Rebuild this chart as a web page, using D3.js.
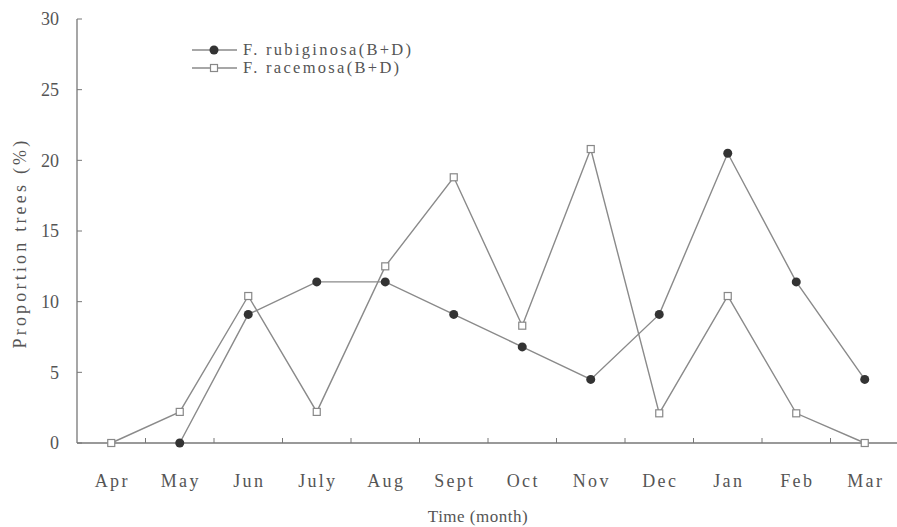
<!DOCTYPE html>
<html><head><meta charset="utf-8">
<script src="https://cdn.jsdelivr.net/npm/d3@7"></script>
<style>body{margin:0;background:#fff;} text{font-family:"Liberation Serif","Times New Roman",serif;fill:#555;}</style>
</head><body><svg id="c" width="897" height="527"></svg>
<script>
const months = ["Apr","May","Jun","July","Aug","Sept","Oct","Nov","Dec","Jan","Feb","Mar"];
const rubiginosa = [null,0,9.1,11.4,11.4,9.1,6.8,4.5,9.1,20.5,11.4,4.5];
const racemosa = [0,2.2,10.4,2.2,12.5,18.8,8.3,20.8,2.1,10.4,2.1,0];
const yTicks = [0,5,10,15,20,25,30];
const seriesNames = ["F. rubiginosa(B+D)","F. racemosa(B+D)"];

const svg = d3.select("#c");
const x = d3.scaleBand().domain(months).range([77,899]);
const y = d3.scaleLinear().domain([0,30]).range([443,19]);
const axisColor = "#777";

svg.append("line").attr("x1",77).attr("x2",77).attr("y1",y(30)).attr("y2",y(0)).attr("stroke",axisColor).attr("stroke-width",1.3);
svg.append("line").attr("x1",77).attr("x2",897).attr("y1",y(0)).attr("y2",y(0)).attr("stroke",axisColor).attr("stroke-width",1.3);

yTicks.forEach(t=>{
  svg.append("line").attr("x1",77).attr("x2",82).attr("y1",y(t)).attr("y2",y(t)).attr("stroke",axisColor);
  svg.append("text").attr("x",59).attr("y",y(t)).attr("dy","0.35em").attr("text-anchor","end").attr("font-size",18).text(t);
});
months.forEach((m,i)=>{
  if(i>0){const bx = x(m); svg.append("line").attr("x1",bx).attr("x2",bx).attr("y1",y(0)).attr("y2",y(0)-5).attr("stroke",axisColor);}
  svg.append("text").attr("x",x(m)+x.bandwidth()/2+1).attr("y",487).attr("text-anchor","middle").attr("font-size",18).attr("letter-spacing","2.3px").text(m);
});
svg.append("text").attr("x",478).attr("y",522).attr("text-anchor","middle").attr("font-size",17).attr("letter-spacing","0.5px").text("Time (month)");
svg.append("text").attr("transform","translate(26,243) rotate(-90)").attr("text-anchor","middle").attr("font-size",18).attr("letter-spacing","3.2px").text("Proportion trees (%)");

const cx = i => x(months[i]) + x.bandwidth()/2;
const line = d3.line().defined(d=>d.v!==null).x(d=>cx(d.i)).y(d=>y(d.v));
const lineColor = "#8a8a8a";
const rData = rubiginosa.map((v,i)=>({v,i}));
const cData = racemosa.map((v,i)=>({v,i}));
svg.append("path").attr("d",line(rData)).attr("fill","none").attr("stroke",lineColor).attr("stroke-width",1.4);
svg.append("path").attr("d",line(cData)).attr("fill","none").attr("stroke",lineColor).attr("stroke-width",1.4);

svg.selectAll(".r").data(rData.filter(d=>d.v!==null)).enter().append("circle")
  .attr("cx",d=>cx(d.i)).attr("cy",d=>y(d.v)).attr("r",4.5).attr("fill","#333");
svg.selectAll(".s").data(cData).enter().append("rect")
  .attr("x",d=>cx(d.i)-3.5).attr("y",d=>y(d.v)-3.5).attr("width",7).attr("height",7)
  .attr("fill","#fff").attr("stroke","#888").attr("stroke-width",1.2);

const lg = [{y:50,type:"c"},{y:68,type:"s"}];
lg.forEach((l,k)=>{
  svg.append("line").attr("x1",192).attr("x2",237).attr("y1",l.y).attr("y2",l.y).attr("stroke",lineColor).attr("stroke-width",1.4);
  if(l.type==="c") svg.append("circle").attr("cx",214).attr("cy",l.y).attr("r",4.5).attr("fill","#333");
  else svg.append("rect").attr("x",210.5).attr("y",l.y-3.5).attr("width",7).attr("height",7).attr("fill","#fff").attr("stroke","#888").attr("stroke-width",1.2);
  svg.append("text").attr("x",243).attr("y",l.y).attr("dy","0.33em").attr("font-size",16.5).attr("letter-spacing","2.3px").text(seriesNames[k]);
});
</script></body></html>
